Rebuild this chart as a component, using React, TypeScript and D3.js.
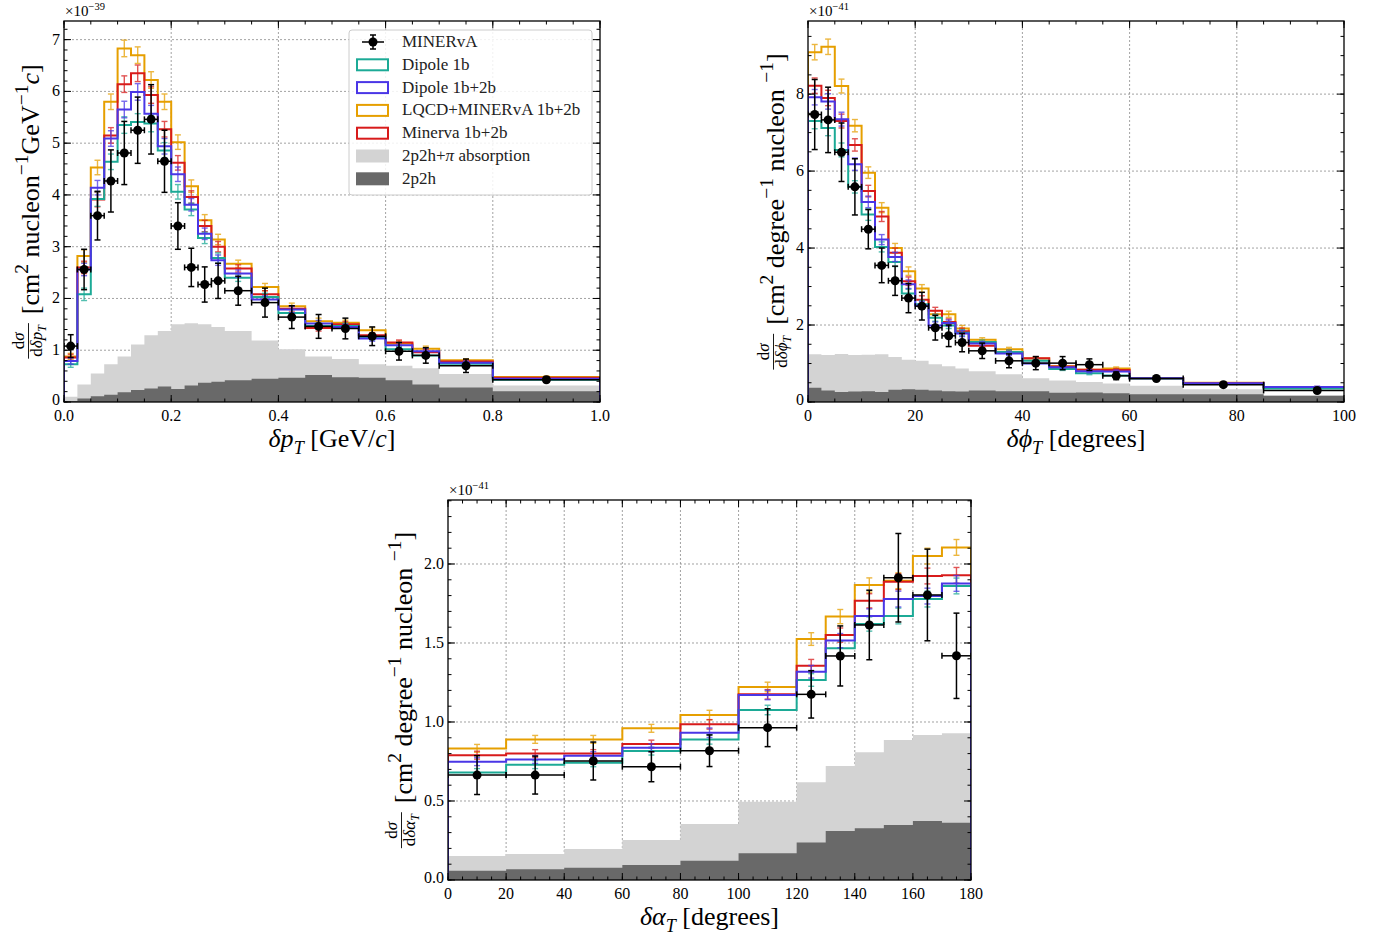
import React, { useRef, useEffect } from 'react';
import * as d3 from 'd3';

// ---------- δpT panel (×1e-39) ----------
const ptEdges = [0, 0.025, 0.05, 0.075, 0.1, 0.125, 0.15, 0.175, 0.2, 0.225, 0.25, 0.275, 0.3, 0.35, 0.4, 0.45, 0.5, 0.55, 0.6, 0.65, 0.7, 0.8, 1.0];
const ptDipole1b = [0.73, 2.08, 3.92, 4.64, 5.35, 5.41, 5.38, 4.86, 4.06, 3.72, 3.17, 2.78, 2.40, 2.03, 1.72, 1.47, 1.47, 1.25, 1.02, 0.90, 0.74, 0.43];
const ptDipole1b2b = [0.79, 2.56, 4.14, 5.09, 5.65, 5.99, 5.57, 4.94, 4.40, 3.81, 3.25, 2.74, 2.48, 1.98, 1.785, 1.515, 1.45, 1.225, 1.095, 0.98, 0.76, 0.45];
const ptLqcd = [0.88, 2.82, 4.53, 5.80, 6.83, 6.70, 6.22, 5.80, 5.02, 4.17, 3.51, 3.14, 2.67, 2.22, 1.85, 1.56, 1.53, 1.385, 1.13, 1.03, 0.805, 0.483];
const ptMinerva = [0.86, 2.60, 3.91, 5.15, 6.14, 6.35, 5.93, 5.27, 4.62, 3.96, 3.40, 3.00, 2.58, 2.08, 1.80, 1.43, 1.50, 1.29, 1.148, 0.96, 0.78, 0.47];
const ptMcErr = [0.06, 0.12, 0.14, 0.15, 0.16, 0.16, 0.16, 0.15, 0.14, 0.12, 0.11, 0.1, 0.07, 0.07, 0.06, 0.06, 0.05, 0.05, 0.05, 0.05, 0.03, 0.02];
const ptPiAbs = [0.10, 0.34, 0.55, 0.73, 0.88, 1.11, 1.29, 1.37, 1.50, 1.52, 1.50, 1.45, 1.37, 1.19, 1.02, 0.88, 0.83, 0.73, 0.70, 0.65, 0.54, 0.32];
const pt2p2h = [0.02, 0.07, 0.11, 0.14, 0.19, 0.23, 0.26, 0.30, 0.25, 0.32, 0.37, 0.39, 0.42, 0.45, 0.47, 0.52, 0.48, 0.47, 0.42, 0.34, 0.28, 0.21];
const ptData = [1.08, 2.56, 3.60, 4.27, 4.81, 5.25, 5.46, 4.65, 3.40, 2.60, 2.27, 2.34, 2.15, 1.92, 1.64, 1.46, 1.42, 1.27, 0.98, 0.90, 0.70, 0.43];
const ptDataErr = [0.22, 0.39, 0.47, 0.60, 0.61, 0.64, 0.67, 0.60, 0.45, 0.37, 0.34, 0.34, 0.28, 0.28, 0.22, 0.23, 0.20, 0.18, 0.17, 0.15, 0.13, 0.05];
const ptXTicks = [0, 0.2, 0.4, 0.6, 0.8, 1.0];
const ptYTicks = [0, 1, 2, 3, 4, 5, 6, 7];

// ---------- δφT panel (×1e-41) ----------
const phiEdges = [0, 2.5, 5, 7.5, 10, 12.5, 15, 17.5, 20, 22.5, 25, 27.5, 30, 35, 40, 45, 50, 55, 60, 70, 85, 105];
const phiDipole1b = [7.30, 7.12, 6.55, 5.59, 4.87, 4.03, 3.64, 2.82, 2.54, 2.19, 1.99, 1.80, 1.56, 1.30, 1.07, 0.86, 0.75, 0.69, 0.61, 0.47, 0.35];
const phiDipole1b2b = [7.92, 7.81, 7.35, 6.18, 5.20, 4.22, 3.77, 3.06, 2.51, 1.99, 2.05, 1.78, 1.52, 1.26, 1.00, 0.90, 0.80, 0.79, 0.62, 0.49, 0.39];
const phiLqcd = [9.09, 9.23, 8.21, 7.18, 5.96, 5.05, 4.00, 3.40, 2.95, 2.28, 2.28, 1.91, 1.62, 1.37, 1.13, 0.93, 0.84, 0.87, 0.62, 0.50, 0.38];
const phiMinerva = [8.22, 7.90, 7.30, 6.68, 5.48, 4.82, 3.88, 3.14, 2.66, 2.37, 2.08, 1.84, 1.46, 1.30, 1.14, 0.92, 0.84, 0.83, 0.62, 0.49, 0.38];
const phiMcErr = [0.2, 0.2, 0.18, 0.16, 0.15, 0.13, 0.12, 0.11, 0.1, 0.09, 0.08, 0.08, 0.05, 0.05, 0.04, 0.04, 0.04, 0.04, 0.03, 0.02, 0.02];
const phiPiAbs = [1.24, 1.22, 1.25, 1.22, 1.23, 1.24, 1.17, 1.10, 1.07, 0.98, 0.93, 0.87, 0.80, 0.72, 0.62, 0.56, 0.52, 0.48, 0.42, 0.33, 0.17];
const phi2p2h = [0.37, 0.30, 0.26, 0.27, 0.28, 0.26, 0.32, 0.33, 0.32, 0.30, 0.28, 0.27, 0.30, 0.28, 0.28, 0.24, 0.25, 0.23, 0.20, 0.20, 0.16];
const phiData = [7.47, 7.33, 6.49, 5.59, 4.49, 3.55, 3.15, 2.70, 2.49, 1.93, 1.72, 1.545, 1.33, 1.07, 1.01, 1.01, 0.97, 0.68, 0.61, 0.45, 0.30];
const phiDataErr = [0.91, 0.85, 0.76, 0.73, 0.51, 0.45, 0.38, 0.38, 0.36, 0.32, 0.28, 0.24, 0.20, 0.18, 0.17, 0.17, 0.15, 0.10, 0.05, 0.04, 0.03];
const phiXTicks = [0, 20, 40, 60, 80, 100];
const phiYTicks = [0, 2, 4, 6, 8];

// ---------- δαT panel (×1e-41) ----------
const alphaEdges = [0, 20, 40, 60, 80, 100, 120, 130, 140, 150, 160, 170, 180];
const alphaDipole1b = [0.68, 0.73, 0.742, 0.816, 0.89, 1.076, 1.266, 1.466, 1.62, 1.671, 1.778, 1.861];
const alphaDipole1b2b = [0.749, 0.763, 0.787, 0.837, 0.932, 1.171, 1.318, 1.515, 1.671, 1.778, 1.797, 1.877];
const alphaLqcd = [0.833, 0.89, 0.89, 0.96, 1.044, 1.222, 1.525, 1.667, 1.867, 1.894, 2.05, 2.105];
const alphaMinerva = [0.79, 0.80, 0.80, 0.86, 0.985, 1.175, 1.356, 1.55, 1.767, 1.888, 1.924, 1.928];
const alphaMcErr = [0.025, 0.025, 0.025, 0.025, 0.03, 0.03, 0.04, 0.045, 0.045, 0.05, 0.05, 0.05];
const alphaPiAbs = [0.152, 0.165, 0.196, 0.253, 0.354, 0.496, 0.618, 0.722, 0.808, 0.886, 0.918, 0.928];
const alpha2p2h = [0.059, 0.068, 0.078, 0.095, 0.122, 0.169, 0.238, 0.31, 0.327, 0.348, 0.373, 0.362];
const alphaData = [0.664, 0.664, 0.753, 0.717, 0.818, 0.964, 1.175, 1.418, 1.614, 1.913, 1.804, 1.419];
const alphaDataErr = [0.123, 0.12, 0.12, 0.095, 0.10, 0.12, 0.15, 0.19, 0.22, 0.28, 0.29, 0.27];
const alphaXTicks = [0, 20, 40, 60, 80, 100, 120, 140, 160, 180];
const alphaYTicks = [0, 0.5, 1.0, 1.5, 2.0];

const legendLabels = ['MINERvA', 'Dipole 1b', 'Dipole 1b+2b', 'LQCD+MINERvA 1b+2b', 'Minerva 1b+2b', '2p2h+π absorption', '2p2h'];

const TEAL = '#1caa96';
const BLUE = '#4a36e6';
const ORANGE = '#e69f00';
const RED = '#d81b1b';
const LIGHT = '#d3d3d3';
const DARK = '#696969';
const FONT = '"Liberation Serif", "DejaVu Serif", serif';

type Part = { t: string; i?: boolean; sup?: boolean; sub?: boolean };

// write a run of text pieces with italic / super / subscript
const rich = (text: any, parts: Part[], size: number, small = 0.7) => {
  let shift = 0;
  parts.forEach(p => {
    const target = p.sup ? -size * 0.42 : p.sub ? size * 0.25 : 0;
    text.append('tspan')
      .attr('dy', target - shift)
      .style('font-style', p.i ? 'italic' : 'normal')
      .style('font-size', (p.sup || p.sub ? size * small : size) + 'px')
      .text(p.t);
    shift = target;
  });
};

const drawPanel = (svg: any, p: any) => {
  const x = d3.scaleLinear().domain(p.xDomain).range([p.left, p.left + p.width]);
  const y = d3.scaleLinear().domain(p.yDomain).range([p.top + p.height, p.top]);
  const x0 = p.left, x1 = p.left + p.width, y0 = p.top + p.height, y1 = p.top;
  const n = p.piAbs.length;
  const centers = d3.range(n).map(i => (p.edges[i] + p.edges[i + 1]) / 2);

  svg.append('defs').append('clipPath').attr('id', 'clip-' + p.id)
    .append('rect').attr('x', x0).attr('y', y1).attr('width', p.width).attr('height', p.height);

  // grid
  const grid = svg.append('g').attr('stroke', '#8a8a8a').attr('stroke-width', 0.8).attr('stroke-dasharray', '2,2');
  p.xTicks.forEach((t: number) => {
    if (x(t) > x0 + 1 && x(t) < x1 - 1) grid.append('line').attr('x1', x(t)).attr('x2', x(t)).attr('y1', y0).attr('y2', y1);
  });
  p.yTicks.forEach((t: number) => {
    if (y(t) < y0 - 1 && y(t) > y1 + 1) grid.append('line').attr('y1', y(t)).attr('y2', y(t)).attr('x1', x0).attr('x2', x1);
  });

  const body = svg.append('g').attr('clip-path', `url(#clip-${p.id})`);
  const stepPts = (vals: number[]) => vals.map((v, i) => [p.edges[i], v]).concat([[p.edges[n], vals[n - 1]]]);
  const area = d3.area<number[]>().x(d => x(d[0])).y0(y(0)).y1(d => y(d[1])).curve(d3.curveStepAfter);
  body.append('path').attr('d', area(stepPts(p.piAbs))).attr('fill', LIGHT);
  body.append('path').attr('d', area(stepPts(p.twoP2h))).attr('fill', DARK);

  const line = d3.line<number[]>().x(d => x(d[0])).y(d => y(d[1])).curve(d3.curveStepAfter);
  p.hists.forEach((h: any) => {
    const pts = [[p.edges[0], 0], ...stepPts(h.vals), [p.edges[n], 0]];
    body.append('path').attr('d', line(pts)).attr('fill', 'none').attr('stroke', h.color).attr('stroke-width', 2);
    const eb = body.append('g').attr('stroke', h.color).attr('stroke-width', 1.4).attr('opacity', 0.75);
    h.vals.forEach((v: number, i: number) => {
      const cx = x(centers[i]);
      const e = p.mcErr[i];
      eb.append('line').attr('x1', cx).attr('x2', cx).attr('y1', y(v - e)).attr('y2', y(v + e));
      eb.append('line').attr('x1', cx - 3).attr('x2', cx + 3).attr('y1', y(v - e)).attr('y2', y(v - e));
      eb.append('line').attr('x1', cx - 3).attr('x2', cx + 3).attr('y1', y(v + e)).attr('y2', y(v + e));
    });
  });

  // data
  const dg = body.append('g').attr('stroke', '#000').attr('stroke-width', 1.5);
  p.data.forEach((v: number, i: number) => {
    const cx = x(centers[i]);
    const e = p.dataErr[i];
    const xa = x(p.edges[i]), xb = x(p.edges[i + 1]);
    dg.append('line').attr('x1', xa).attr('x2', xb).attr('y1', y(v)).attr('y2', y(v));
    dg.append('line').attr('x1', xa).attr('x2', xa).attr('y1', y(v) - 3).attr('y2', y(v) + 3);
    dg.append('line').attr('x1', xb).attr('x2', xb).attr('y1', y(v) - 3).attr('y2', y(v) + 3);
    dg.append('line').attr('x1', cx).attr('x2', cx).attr('y1', y(v - e)).attr('y2', y(v + e));
    dg.append('line').attr('x1', cx - 3).attr('x2', cx + 3).attr('y1', y(v - e)).attr('y2', y(v - e));
    dg.append('line').attr('x1', cx - 3).attr('x2', cx + 3).attr('y1', y(v + e)).attr('y2', y(v + e));
    dg.append('circle').attr('cx', cx).attr('cy', y(v)).attr('r', 4.5).attr('fill', '#000').attr('stroke', 'none');
  });

  // ticks on all four sides, pointing in
  const tk = svg.append('g').attr('stroke', '#000').attr('stroke-width', 1);
  const xMinor = d3.range(p.xDomain[0], p.xDomain[1] + 1e-9, p.xMinor);
  const yMinor = d3.range(p.yDomain[0], p.yDomain[1] + 1e-9, p.yMinor);
  xMinor.forEach((t: number) => {
    tk.append('line').attr('x1', x(t)).attr('x2', x(t)).attr('y1', y0).attr('y2', y0 - 3.5);
    tk.append('line').attr('x1', x(t)).attr('x2', x(t)).attr('y1', y1).attr('y2', y1 + 3.5);
  });
  yMinor.forEach((t: number) => {
    tk.append('line').attr('y1', y(t)).attr('y2', y(t)).attr('x1', x0).attr('x2', x0 + 3.5);
    tk.append('line').attr('y1', y(t)).attr('y2', y(t)).attr('x1', x1).attr('x2', x1 - 3.5);
  });
  p.xTicks.forEach((t: number) => {
    tk.append('line').attr('x1', x(t)).attr('x2', x(t)).attr('y1', y0).attr('y2', y0 - 7);
    tk.append('line').attr('x1', x(t)).attr('x2', x(t)).attr('y1', y1).attr('y2', y1 + 7);
  });
  p.yTicks.forEach((t: number) => {
    tk.append('line').attr('y1', y(t)).attr('y2', y(t)).attr('x1', x0).attr('x2', x0 + 7);
    tk.append('line').attr('y1', y(t)).attr('y2', y(t)).attr('x1', x1).attr('x2', x1 - 7);
  });

  svg.append('rect').attr('x', x0).attr('y', y1).attr('width', p.width).attr('height', p.height)
    .attr('fill', 'none').attr('stroke', '#000').attr('stroke-width', 1.3);

  // tick labels
  const lab = svg.append('g').style('font-family', FONT).style('font-size', '16px').attr('fill', '#000');
  p.xTicks.forEach((t: number) => {
    lab.append('text').attr('x', x(t)).attr('y', y0 + 19).attr('text-anchor', 'middle').text(p.xFmt(t));
  });
  p.yTicks.forEach((t: number) => {
    lab.append('text').attr('x', x0 - 4).attr('y', y(t) + (t === 0 ? 3 : 5)).attr('text-anchor', 'end').text(p.yFmt(t));
  });

  // offset text
  const off = svg.append('text').attr('x', x0 + 1).attr('y', y1 - 5).style('font-family', FONT).attr('fill', '#000');
  rich(off, [{ t: '×10' }, { t: p.exponent, sup: true }], 15);

  // x label
  const xl = svg.append('text').attr('x', (x0 + x1) / 2).attr('y', y0 + 45).attr('text-anchor', 'middle')
    .style('font-family', FONT).attr('fill', '#000');
  rich(xl, p.xLabel, 26);

  // y label: fraction + bracketed units, rotated
  const yl = svg.append('g').attr('transform', `translate(${p.yLabelX},${(y0 + y1) / 2}) rotate(-90)`)
    .style('font-family', FONT).attr('fill', '#000');
  const units = yl.append('text').attr('y', 10);
  rich(units, p.yUnits, 26, 0.75);
  const num = yl.append('text').attr('y', -5).attr('text-anchor', 'middle');
  rich(num, [{ t: 'd' }, { t: 'σ', i: true }], 17);
  const den = yl.append('text').attr('y', 13).attr('text-anchor', 'middle');
  rich(den, p.yDen, 17);
  const fw = Math.max((num.node() as any).getComputedTextLength(), (den.node() as any).getComputedTextLength()) + 4;
  const uw = (units.node() as any).getComputedTextLength();
  const start = -(fw + 9 + uw) / 2;
  num.attr('x', start + fw / 2);
  den.attr('x', start + fw / 2);
  yl.append('line').attr('x1', start).attr('x2', start + fw).attr('y1', -0.5).attr('y2', -0.5)
    .attr('stroke', '#000').attr('stroke-width', 0.9);
  units.attr('x', start + fw + 9);
};

const App = () => {
  const svgRef = useRef<SVGSVGElement>(null);

  useEffect(() => {
    const svg = d3.select(svgRef.current);
    svg.selectAll('*').remove();
    svg.append('rect').attr('width', 1390).attr('height', 942).attr('fill', '#fff');

    const unitsPerDeg: Part[] = [{ t: '[cm' }, { t: '2', sup: true }, { t: ' degree' }, { t: '−1', sup: true }, { t: ' nucleon ' }, { t: '−1', sup: true }, { t: ']' }];

    drawPanel(svg, {
      id: 'pt', left: 64, top: 21, width: 536, height: 381,
      xDomain: [0, 1], yDomain: [0, 7.36], xMinor: 0.05, yMinor: 0.2,
      xTicks: ptXTicks, yTicks: ptYTicks,
      xFmt: d3.format('.1f'), yFmt: d3.format('d'),
      edges: ptEdges, piAbs: ptPiAbs, twoP2h: pt2p2h, mcErr: ptMcErr,
      hists: [
        { vals: ptLqcd, color: ORANGE },
        { vals: ptMinerva, color: RED },
        { vals: ptDipole1b, color: TEAL },
        { vals: ptDipole1b2b, color: BLUE },
      ],
      data: ptData, dataErr: ptDataErr, exponent: '−39',
      xLabel: [{ t: 'δp', i: true }, { t: 'T', i: true, sub: true }, { t: ' [GeV/' }, { t: 'c', i: true }, { t: ']' }],
      yUnits: [{ t: '[cm' }, { t: '2', sup: true }, { t: ' nucleon' }, { t: '−1', sup: true }, { t: 'GeV' }, { t: '−1', sup: true }, { t: 'c', i: true }, { t: ']' }],
      yDen: [{ t: 'd' }, { t: 'δp', i: true }, { t: 'T', i: true, sub: true }],
      yLabelX: 29,
    });

    drawPanel(svg, {
      id: 'phi', left: 808, top: 21, width: 536, height: 381,
      xDomain: [0, 100], yDomain: [0, 9.9], xMinor: 5, yMinor: 0.5,
      xTicks: phiXTicks, yTicks: phiYTicks,
      xFmt: d3.format('d'), yFmt: d3.format('d'),
      edges: phiEdges, piAbs: phiPiAbs, twoP2h: phi2p2h, mcErr: phiMcErr,
      hists: [
        { vals: phiLqcd, color: ORANGE },
        { vals: phiMinerva, color: RED },
        { vals: phiDipole1b, color: TEAL },
        { vals: phiDipole1b2b, color: BLUE },
      ],
      data: phiData, dataErr: phiDataErr, exponent: '−41',
      xLabel: [{ t: 'δϕ', i: true }, { t: 'T', i: true, sub: true }, { t: ' [degrees]' }],
      yUnits: unitsPerDeg,
      yDen: [{ t: 'd' }, { t: 'δϕ', i: true }, { t: 'T', i: true, sub: true }],
      yLabelX: 774,
    });

    drawPanel(svg, {
      id: 'alpha', left: 448, top: 500, width: 523, height: 380,
      xDomain: [0, 180], yDomain: [0, 2.405], xMinor: 5, yMinor: 0.1,
      xTicks: alphaXTicks, yTicks: alphaYTicks,
      xFmt: d3.format('d'), yFmt: d3.format('.1f'),
      edges: alphaEdges, piAbs: alphaPiAbs, twoP2h: alpha2p2h, mcErr: alphaMcErr,
      hists: [
        { vals: alphaLqcd, color: ORANGE },
        { vals: alphaMinerva, color: RED },
        { vals: alphaDipole1b, color: TEAL },
        { vals: alphaDipole1b2b, color: BLUE },
      ],
      data: alphaData, dataErr: alphaDataErr, exponent: '−41',
      xLabel: [{ t: 'δα', i: true }, { t: 'T', i: true, sub: true }, { t: ' [degrees]' }],
      yUnits: unitsPerDeg,
      yDen: [{ t: 'd' }, { t: 'δα', i: true }, { t: 'T', i: true, sub: true }],
      yLabelX: 402,
    });

    // legend in the δpT panel
    const lg = svg.append('g').style('font-family', FONT).style('font-size', '17px');
    lg.append('rect').attr('x', 349).attr('y', 30).attr('width', 243).attr('height', 165).attr('rx', 3)
      .attr('fill', '#fff').attr('fill-opacity', 0.85).attr('stroke', '#cccccc').attr('stroke-width', 1);
    const handles = [
      { kind: 'data' },
      { kind: 'line', color: TEAL },
      { kind: 'line', color: BLUE },
      { kind: 'line', color: ORANGE },
      { kind: 'line', color: RED },
      { kind: 'fill', color: LIGHT },
      { kind: 'fill', color: DARK },
    ];
    legendLabels.forEach((name, i) => {
      const cy = 42 + i * 22.8;
      const h = handles[i];
      if (h.kind === 'data') {
        const e = lg.append('g').attr('stroke', '#000').attr('stroke-width', 1.5);
        e.append('line').attr('x1', 362).attr('x2', 384).attr('y1', cy).attr('y2', cy);
        e.append('line').attr('x1', 373).attr('x2', 373).attr('y1', cy - 7).attr('y2', cy + 7);
        e.append('line').attr('x1', 370).attr('x2', 376).attr('y1', cy - 7).attr('y2', cy - 7);
        e.append('line').attr('x1', 370).attr('x2', 376).attr('y1', cy + 7).attr('y2', cy + 7);
        e.append('circle').attr('cx', 373).attr('cy', cy).attr('r', 4.5).attr('fill', '#000').attr('stroke', 'none');
      } else if (h.kind === 'line') {
        lg.append('rect').attr('x', 357).attr('y', cy - 5.5).attr('width', 31).attr('height', 11)
          .attr('fill', '#fff').attr('stroke', h.color).attr('stroke-width', 2);
      } else {
        lg.append('rect').attr('x', 356).attr('y', cy - 6.5).attr('width', 33).attr('height', 13).attr('fill', h.color);
      }
      const tx = lg.append('text').attr('x', 402).attr('y', cy + 5).attr('fill', '#222');
      if (name.includes('π')) {
        const [a, b] = name.split('π');
        tx.append('tspan').text(a);
        tx.append('tspan').style('font-style', 'italic').text('π');
        tx.append('tspan').text(b);
      } else {
        tx.text(name);
      }
    });
  }, []);

  return (
    <svg ref={svgRef} width={1390} height={942} style={{ position: 'absolute', left: 0, top: 0 }} />
  );
};

export default App;
